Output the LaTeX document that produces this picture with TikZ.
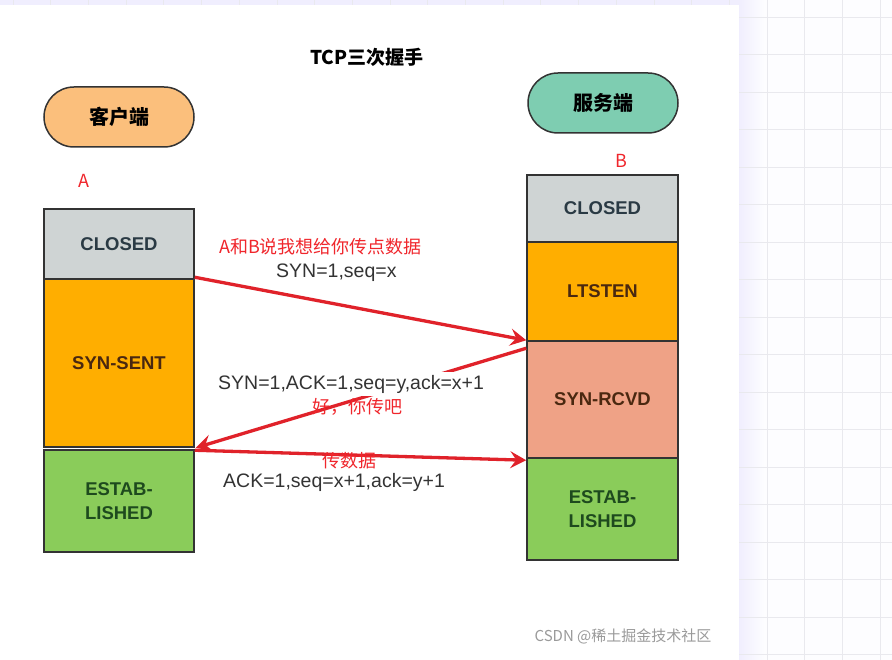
\documentclass[tikz,border=0pt]{standalone}
\usepackage{fontspec}
\setmainfont{Liberation Sans}
\newfontfamily\cjk{Noto Sans CJK SC}
\usetikzlibrary{arrows.meta,shapes.misc}
\definecolor{bgtint}{HTML}{FDFDFF}
\definecolor{lav}{HTML}{F0EEFE}
\definecolor{gridc}{HTML}{E9E9EE}
\definecolor{boxline}{HTML}{333333}
\definecolor{closedgray}{HTML}{CFD4D4}
\definecolor{synorange}{HTML}{FFAE00}
\definecolor{rcvdsalmon}{HTML}{EFA286}
\definecolor{estgreen}{HTML}{8ACC5A}
\definecolor{cliorange}{HTML}{FBBF7C}
\definecolor{srvteal}{HTML}{7ECDB1}
\definecolor{arrred}{HTML}{E0222A}
\definecolor{txtred}{HTML}{F0262C}
\definecolor{txtgray}{HTML}{333333}
\definecolor{slate}{HTML}{2A3A44}
\definecolor{brownish}{HTML}{4A2810}
\definecolor{darkgreen}{HTML}{1E4A1E}
\definecolor{wm}{HTML}{9A9A9A}
\tikzset{
  statebox/.style={draw=boxline, line width=1.5pt, minimum width=150pt, inner sep=0pt,
    font=\fontsize{18.5}{23.5}\selectfont\bfseries, align=center},
  ovalbox/.style={rounded rectangle, draw=boxline, line width=1.5pt, minimum width=150pt,
    minimum height=60pt, inner sep=0pt, font=\cjk\bfseries\fontsize{20}{24}\selectfont},
  msg/.style={inner sep=0pt, text=txtgray, font=\fontsize{19.5}{22}\selectfont},
  note/.style={inner sep=0pt, text=txtred, font=\cjk\fontsize{18}{21}\selectfont},
  redarrow/.style={draw=arrred, line width=3.3pt, -{Stealth[length=16pt,width=17pt,inset=6pt]}}
}
\begin{document}
\begin{tikzpicture}[x=1pt,y=-1pt]
\useasboundingbox (0,0) rectangle (892,660);
% background
\fill[bgtint] (0,0) rectangle (892,660);
\fill[lav] (0,0) rectangle (739,5);
\fill[left color=lav, right color=bgtint] (739,0) rectangle (764,660);
\foreach \i in {-20,...,3} \draw[gridc, line width=0.8pt] ({767+37.7*\i},0) -- ({767+37.7*\i},660);
\foreach \j in {-1,...,17} \draw[gridc, line width=0.8pt] (0,{17+37.5*\j}) -- (892,{17+37.5*\j});
\fill[white] (0,5) rectangle (739,660);

% title
\node[inner sep=0pt, font=\cjk\bfseries\fontsize{19}{22}\selectfont] (title) at (367,57) {TCP三次握手};

% ovals
\node[ovalbox, fill=cliorange] (cli) at (119,117) {客户端};
\node[ovalbox, fill=srvteal] (srv) at (603,103) {服务端};
\node[note] (la) at (84,181) {A};
\node[note] (lb) at (621,161) {B};

% client column
\node[statebox, fill=closedgray, text=slate, minimum height=70pt] (c1) at (119,244) {CLOSED};
\node[statebox, fill=synorange, text=brownish, minimum height=168pt] (c2) at (119,363) {SYN-SENT};
\node[statebox, fill=estgreen, text=darkgreen, minimum height=102pt] (c3) at (119,501) {ESTAB-\\LISHED};

% server column
\node[statebox, fill=closedgray, text=slate, minimum width=151pt, minimum height=67pt] (s1) at (602.5,208.5) {CLOSED};
\node[statebox, fill=synorange, text=brownish, minimum width=151pt, minimum height=99pt] (s2) at (602.5,291.5) {LTSTEN};
\node[statebox, fill=rcvdsalmon, text=brownish, minimum width=151pt, minimum height=117pt] (s3) at (602.5,399.5) {SYN-RCVD};
\node[statebox, fill=estgreen, text=darkgreen, minimum width=151pt, minimum height=102pt] (s4) at (602.5,509) {ESTAB-\\LISHED};

% arrows
\coordinate (a1s) at ([yshift=1pt]c2.north east);
\coordinate (a1e) at ([yshift=0pt]s3.north west);
\coordinate (a2s) at ([yshift=-8pt]s3.north west);
\coordinate (a2e) at ([xshift=1pt]c2.south east);
\coordinate (a3s) at ([yshift=-1pt]c3.north east);
\coordinate (a3e) at ([yshift=-3pt]s4.north west);
\draw[redarrow] (a1s) -- (a1e);
\draw[redarrow] (a2s) -- (a2e);
\draw[redarrow] (a3s) -- (a3e);

% labels
\node[note, anchor=west] (n1) at (219,247) {A和B说我想给你传点数据};
\node[msg, anchor=west] (m1) at (276,273) {SYN=1,seq=x};
\node[msg, anchor=west, fill=white, inner sep=3pt] (m2) at (215,384) {SYN=1,ACK=1,seq=y,ack=x+1};
\node[note, anchor=west] (n2) at (312,407) {好，你传吧};
\node[note, anchor=west] (n3) at (322,461) {传数据};
\node[msg, anchor=west] (m3) at (223,482) {ACK=1,seq=x+1,ack=y+1};

% watermark
\node[inner sep=0pt, text=wm, font=\cjk\fontsize{15}{18}\selectfont] (wmk) at (623,636) {CSDN @稀土掘金技术社区};
\end{tikzpicture}
\end{document}
